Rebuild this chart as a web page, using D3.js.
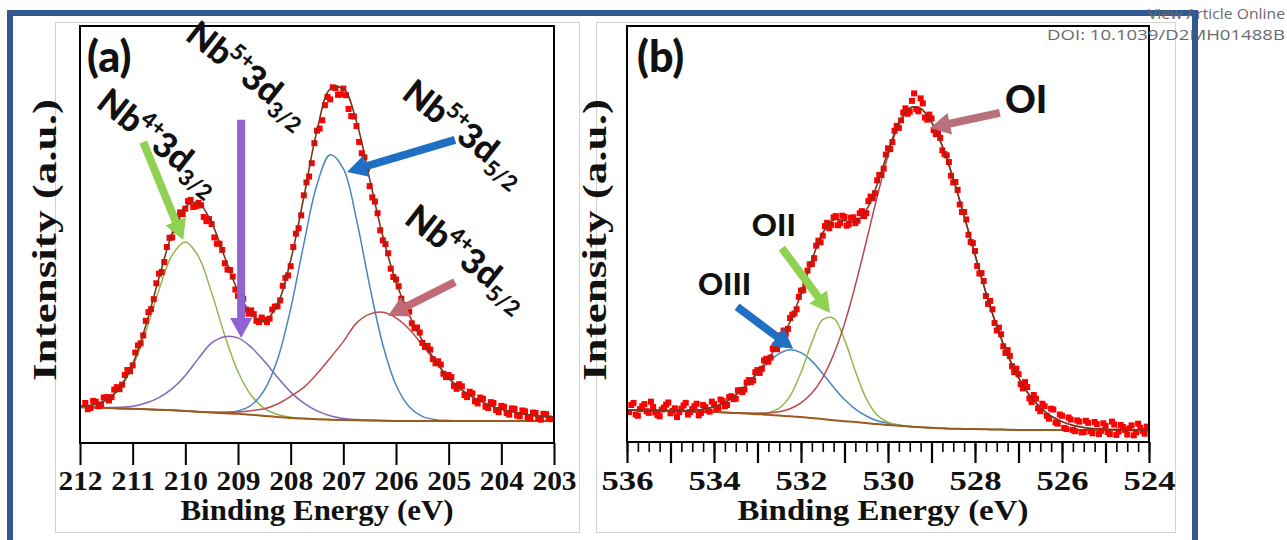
<!DOCTYPE html>
<html><head><meta charset="utf-8">
<script src="https://cdn.jsdelivr.net/npm/d3@7"></script>
<style>body{margin:0;background:#fff;}svg{display:block;}</style>
</head><body>
<svg id="chart" width="1287" height="540"></svg>
<script>
// ================= DATA: panel (a) Nb 3d =================
const gridA = [212,211.75,211.5,211.25,211,210.75,210.5,210.25,210,209.75,209.5,209.25,209,208.75,208.5,208.25,208,207.75,207.5,207.25,207,206.75,206.5,206.25,206,205.75,205.5,205.25,205,204.75,204.5,204.25,204,203.75,203.5,203.25,203];
const baselineA = [8.6,8.5,8.4,8.3,8.2,8.1,8.0,7.85,7.7,7.5,7.3,7.15,7.0,6.75,6.5,6.25,6.0,5.85,5.7,5.6,5.5,5.45,5.4,5.35,5.3,5.3,5.3,5.3,5.3,5.3,5.3,5.3,5.3,5.3,5.3,5.3,5.3];
const nb4_3d32 = [0.2,0.6,1.8,4.7,10.1,18.6,28.7,37.2,40.5,37.2,28.7,18.6,10.1,4.7,1.8,0.6,0.2,0.05,0,0,0,0,0,0,0,0,0,0,0,0,0,0,0,0,0,0,0];
const nb5_3d32 = [0.03,0.05,0.1,0.25,0.6,1.5,2.9,5.2,8.5,12.8,16.7,18.35,18.2,16.2,13.1,9.5,6.2,3.7,2.0,0.95,0.4,0.17,0.07,0.03,0,0,0,0,0,0,0,0,0,0,0,0,0];
const nb5_3d52 = [0,0,0,0,0,0,0,0,0,0,0,0.2,0.7,2.3,6.2,13.8,26.2,41.9,56.3,63.5,60.3,48.1,32.3,18.2,8.6,3.4,1.1,0.3,0.1,0,0,0,0,0,0,0,0];
const nb4_3d52 = [0,0,0,0,0,0,0,0,0,0,0.1,0.2,0.45,1.0,1.7,3.1,5.2,7.5,10.9,14.8,18.8,23.3,25.5,26.0,24.7,22.0,18.2,14.1,10.2,7.4,5.4,3.9,2.8,2.1,1.5,1.1,0.9];
const obsA = [[211.9,9.6],[211.85,8.1],[211.8,8.4],[211.75,10.1],[211.7,9.9],[211.65,8.8],[211.6,9.2],[211.55,10.9],[211.5,11.0],[211.45,10.2],[211.4,11.0],[211.35,12.8],[211.3,13.4],[211.25,12.9],[211.2,14.0],[211.15,16.3],[211.1,17.5],[211.05,17.2],[211.0,18.6],[210.95,21.7],[210.9,23.4],[210.85,23.9],[210.8,25.8],[210.75,29.3],[210.7,31.4],[210.65,32.1],[210.6,34.5],[210.55,38.3],[210.5,40.6],[210.45,41.0],[210.4,43.4],[210.35,47.0],[210.3,49.2],[210.25,49.3],[210.2,51.0],[210.15,53.9],[210.1,55.3],[210.05,54.9],[210.0,56.2],[209.95,58.0],[209.9,58.3],[209.85,56.6],[209.8,56.8],[209.75,57.6],[209.7,57.0],[209.65,54.2],[209.6,53.2],[209.55,53.7],[209.5,52.5],[209.45,49.3],[209.4,47.8],[209.35,47.8],[209.3,46.3],[209.25,43.1],[209.2,41.6],[209.15,41.5],[209.1,39.9],[209.05,36.8],[209.0,35.3],[208.95,35.7],[208.9,34.6],[208.85,32.0],[208.8,31.0],[208.75,31.8],[208.7,30.9],[208.65,29.3],[208.6,29.0],[208.55,30.1],[208.5,29.6],[208.45,29.0],[208.4,29.8],[208.35,32.0],[208.3,32.7],[208.25,32.8],[208.2,34.2],[208.15,37.7],[208.1,39.6],[208.05,40.2],[208.0,42.4],[207.95,47.0],[207.9,50.2],[207.85,51.5],[207.8,54.6],[207.75,59.4],[207.7,62.5],[207.65,63.9],[207.6,67.1],[207.55,71.9],[207.5,74.9],[207.45,75.4],[207.4,77.4],[207.35,81.0],[207.3,83.0],[207.25,82.4],[207.2,85.3],[207.15,85.1],[207.1,83.5],[207.05,83.6],[207.0,85.0],[206.95,83.4],[206.9,80.1],[206.85,78.4],[206.8,78.3],[206.75,76.0],[206.7,72.2],[206.65,69.5],[206.6,68.5],[206.55,65.8],[206.5,61.6],[206.45,58.9],[206.4,57.9],[206.35,55.1],[206.3,51.0],[206.25,48.6],[206.2,47.7],[206.15,45.5],[206.1,41.8],[206.05,39.8],[206.0,39.2],[205.95,37.6],[205.9,34.6],[205.85,33.1],[205.8,32.9],[205.75,31.5],[205.7,28.7],[205.65,27.5],[205.6,27.7],[205.55,26.5],[205.5,24.0],[205.45,23.0],[205.4,23.3],[205.35,22.4],[205.3,20.1],[205.25,19.1],[205.2,19.6],[205.15,18.8],[205.1,16.6],[205.05,15.8],[205.0,16.3],[204.95,15.8],[204.9,13.7],[204.85,13.0],[204.8,14.1],[204.75,13.6],[204.7,11.5],[204.65,11.0],[204.6,12.3],[204.55,11.9],[204.5,10.0],[204.45,9.5],[204.4,10.9],[204.35,10.6],[204.3,8.7],[204.25,8.4],[204.2,9.8],[204.15,9.6],[204.1,7.9],[204.05,7.4],[204.0,8.9],[203.95,8.7],[203.9,7.2],[203.85,6.8],[203.8,8.3],[203.75,8.2],[203.7,6.6],[203.65,6.4],[203.6,7.8],[203.55,7.6],[203.5,6.2],[203.45,5.9],[203.4,7.3],[203.35,7.2],[203.3,5.8],[203.25,5.6],[203.2,7.0],[203.15,6.9],[203.1,5.9],[203.05,5.7]];
const ticksA = [212,211,210,209,208,207,206,205,204,203];
const labelsA = [
  {ion:"Nb", sup:"4+", orb:"3d", sub:"3/2"},
  {ion:"Nb", sup:"5+", orb:"3d", sub:"3/2"},
  {ion:"Nb", sup:"5+", orb:"3d", sub:"5/2"},
  {ion:"Nb", sup:"4+", orb:"3d", sub:"5/2"}
];
// annotation anchors in data coordinates [BE, intensity]
const labelAtA = [[211.72,80.8],[210.03,97.0],[205.92,83.0],[205.87,53.0]];
const arrowsA = [[[210.80,72.2],[210.04,48.7]],[[208.94,77.5],[208.94,25.2]],[[204.88,72.7],[206.93,65.0]],[[204.88,38.6],[206.15,30.5]]];

// ================= DATA: panel (b) O 1s =================
const gridB = [536,535.75,535.5,535.25,535,534.75,534.5,534.25,534,533.75,533.5,533.25,533,532.75,532.5,532.25,532,531.75,531.5,531.25,531,530.75,530.5,530.25,530,529.75,529.5,529.25,529,528.75,528.5,528.25,528,527.75,527.5,527.25,527,526.75,526.5,526.25,526,525.75,525.5,525.25,525,524.75,524.5,524.25,524];
const baselineB = [7.7,7.65,7.6,7.55,7.5,7.4,7.3,7.25,7.2,7.1,6.95,6.85,6.7,6.55,6.35,6.2,6.0,5.75,5.5,5.25,5.0,4.8,4.55,4.3,4.1,3.9,3.7,3.55,3.4,3.3,3.2,3.15,3.1,3.05,3.0,2.95,2.9,2.9,2.9,2.9,2.9,2.9,2.9,2.9,2.9,2.9,2.9,2.9,2.9];
const oIII = [0,0,0,0.02,0.04,0.1,0.26,0.6,1.3,2.4,4.3,6.8,9.7,12.6,14.9,16.0,15.5,13.7,10.9,7.9,5.2,3.1,1.7,0.8,0.4,0.15,0.05,0,0,0,0,0,0,0,0,0,0,0,0,0,0,0,0,0,0,0,0,0,0];
const oII = [0,0,0,0,0,0,0,0,0,0,0,0,0.15,0.5,1.8,4.9,10.7,18.2,23.9,24.5,19.6,12.2,5.9,2.2,0.65,0.2,0.04,0,0,0,0,0,0,0,0,0,0,0,0,0,0,0,0,0,0,0,0,0,0];
const oI = [0,0,0,0,0,0,0,0,0,0,0,0.1,0.2,0.45,0.9,1.8,3.4,6.0,10.0,15.8,23.4,32.9,43.6,54.6,64.7,72.4,76.5,76.6,73.5,67.8,60.1,51.2,41.9,32.9,24.8,18.0,12.6,8.4,5.4,3.3,2.0,1.1,0.6,0.3,0.15,0.08,0.04,0.02,0.01];
const obsB = [[535.95,7.2],[535.9,8.9],[535.85,9.4],[535.8,6.6],[535.75,6.3],[535.7,7.9],[535.65,8.6],[535.6,9.1],[535.55,7.4],[535.5,7.0],[535.45,9.7],[535.4,8.4],[535.35,7.1],[535.3,6.5],[535.25,6.2],[535.2,7.8],[535.15,8.3],[535.1,9.0],[535.05,9.5],[535.0,6.9],[534.95,7.5],[534.9,8.1],[534.85,6.0],[534.8,7.2],[534.75,8.0],[534.7,8.8],[534.65,9.4],[534.6,6.6],[534.55,7.2],[534.5,7.9],[534.45,8.6],[534.4,9.2],[534.35,6.4],[534.3,7.0],[534.25,8.9],[534.2,8.4],[534.15,7.6],[534.1,7.3],[534.05,9.7],[534.0,9.1],[533.95,8.0],[533.9,8.2],[533.85,10.2],[533.8,9.8],[533.75,8.6],[533.7,8.9],[533.65,10.8],[533.6,11.0],[533.55,10.3],[533.5,10.4],[533.45,12.4],[533.4,12.5],[533.35,12.0],[533.3,12.6],[533.25,14.3],[533.2,14.9],[533.15,14.4],[533.1,14.8],[533.05,16.8],[533.0,17.3],[532.95,16.6],[532.9,17.6],[532.85,19.6],[532.8,20.0],[532.75,19.3],[532.7,20.3],[532.65,22.4],[532.6,23.2],[532.55,22.3],[532.5,23.4],[532.45,25.7],[532.4,26.8],[532.35,26.0],[532.3,27.2],[532.25,29.8],[532.2,30.6],[532.15,30.9],[532.1,31.9],[532.05,34.9],[532.0,36.4],[531.95,36.5],[531.9,37.9],[531.85,41.2],[531.8,42.7],[531.75,42.8],[531.7,44.2],[531.65,47.2],[531.6,48.4],[531.55,48.0],[531.5,49.6],[531.45,51.9],[531.4,52.7],[531.35,51.4],[531.3,52.2],[531.25,54.0],[531.2,54.3],[531.15,52.1],[531.1,52.6],[531.05,54.4],[531.0,54.1],[530.95,52.0],[530.9,52.3],[530.85,53.9],[530.8,54.0],[530.75,52.6],[530.7,53.2],[530.65,55.0],[530.6,55.5],[530.55,54.3],[530.5,55.0],[530.45,57.9],[530.4,59.0],[530.35,58.6],[530.3,59.8],[530.25,62.9],[530.2,64.2],[530.15,64.2],[530.1,65.7],[530.05,69.1],[530.0,70.6],[529.95,70.4],[529.9,72.1],[529.85,74.8],[529.8,76.0],[529.75,75.5],[529.7,77.3],[529.65,79.2],[529.6,80.2],[529.55,78.9],[529.5,79.4],[529.45,82.0],[529.4,83.8],[529.35,80.0],[529.3,79.5],[529.25,82.6],[529.2,81.4],[529.15,78.0],[529.1,77.5],[529.05,78.7],[529.0,77.8],[528.95,75.0],[528.9,74.0],[528.85,74.4],[528.8,73.1],[528.75,70.1],[528.7,69.2],[528.65,68.9],[528.6,67.3],[528.55,64.0],[528.5,62.4],[528.45,62.5],[528.4,60.6],[528.35,57.1],[528.3,55.3],[528.25,55.3],[528.2,53.5],[528.15,49.8],[528.1,48.1],[528.05,47.8],[528.0,45.9],[527.95,42.3],[527.9,40.5],[527.85,40.6],[527.8,38.7],[527.75,35.1],[527.7,33.2],[527.65,33.9],[527.6,31.9],[527.55,28.6],[527.5,26.8],[527.45,27.5],[527.4,25.9],[527.35,23.0],[527.3,21.4],[527.25,22.1],[527.2,20.7],[527.15,18.2],[527.1,16.8],[527.05,17.6],[527.0,16.3],[526.95,13.9],[526.9,12.9],[526.85,14.4],[526.8,13.2],[526.75,10.5],[526.7,9.6],[526.65,11.3],[526.6,10.4],[526.55,8.1],[526.5,7.4],[526.45,9.2],[526.4,8.6],[526.35,6.3],[526.3,5.6],[526.25,8.0],[526.2,7.8],[526.15,4.7],[526.1,4.4],[526.05,6.6],[526.0,6.3],[525.95,3.4],[525.9,3.1],[525.85,5.9],[525.8,5.4],[525.75,2.9],[525.7,2.6],[525.65,5.2],[525.6,4.9],[525.55,2.3],[525.5,2.4],[525.45,5.1],[525.4,4.6],[525.35,2.6],[525.3,2.1],[525.25,4.8],[525.2,4.3],[525.15,1.9],[525.1,2.7],[525.05,4.5],[525.0,3.9],[524.95,2.4],[524.9,1.9],[524.85,4.9],[524.8,4.2],[524.75,1.7],[524.7,2.5],[524.65,4.1],[524.6,3.6],[524.55,2.9],[524.5,1.8],[524.45,3.3],[524.4,4.0],[524.35,1.6],[524.3,2.3],[524.25,4.4],[524.2,3.4],[524.15,2.6],[524.1,2.0],[524.05,3.7]];
const majorTicksB = [536,535,534,533,532,531,530,529,528,527,526,525,524];
const ticksB = [536,534,532,530,528,526,524];
const labelsB = ["OI","OII","OIII"];
const labelAtB = [[527.31,79.1],[533.13,49.5],[534.37,35.3]];
const arrowsB = [[[527.43,79.1],[529.03,75.5]],[[532.44,46.6],[531.33,31.0]],[[533.47,32.5],[532.18,22.4]]];

const panelLabels = ["(a)","(b)"];
const axisTitleX = "Binding Energy (eV)";
const axisTitleY = "Intensity (a.u.)";
const headerLines = ["View Article Online","DOI: 10.1039/D2MH01488B"];

// ================= STYLE / LAYOUT =================
const serif = "'Liberation Serif','Times New Roman',serif";
const sans = "Lato,'Open Sans','Noto Sans',sans-serif";
const frameBlue = "#33588f";
const svg = d3.select("#chart");

// light-grey panel boxes
[[55,22,524,510],[596,22,579,510]].forEach(([x,y,w,h]) =>
  svg.append("rect").attr("x",x+0.5).attr("y",y+0.5).attr("width",w).attr("height",h)
     .attr("fill","#fff").attr("stroke","#d2d2d2").attr("stroke-width",1));

function arrow(g, p1, p2, color, sw, hw, hl){
  const dx=p2[0]-p1[0], dy=p2[1]-p1[1], L=Math.hypot(dx,dy);
  const ux=dx/L, uy=dy/L, nx=-uy, ny=ux;
  const bx=p2[0]-ux*hl, by=p2[1]-uy*hl;
  const pts=[[p1[0]+nx*sw/2,p1[1]+ny*sw/2],[bx+nx*sw/2,by+ny*sw/2],[bx+nx*hw/2,by+ny*hw/2],p2,
             [bx-nx*hw/2,by-ny*hw/2],[bx-nx*sw/2,by-ny*sw/2],[p1[0]-nx*sw/2,p1[1]-ny*sw/2]];
  g.append("polygon").attr("points",pts.map(p=>p.join(",")).join(" ")).attr("fill",color);
}

function panel(p){
  const x = d3.scaleLinear().domain(p.dom).range([p.x0,p.x1]);
  const y = d3.scaleLinear().domain([0,100]).range([p.y1,p.y0]);
  const clip = p.id+"-clip";
  svg.append("clipPath").attr("id",clip).append("rect")
     .attr("x",p.x0).attr("y",p.y0).attr("width",p.x1-p.x0).attr("height",p.y1-p.y0);
  const g = svg.append("g");
  const plot = g.append("g").attr("clip-path",`url(#${clip})`);
  const line = d3.line().x(d=>x(d[0])).y(d=>y(d[1])).curve(d3.curveCatmullRom.alpha(0.5));
  p.comps.forEach(c => plot.append("path")
     .datum(p.grid.map((e,i)=>[e, p.base[i]+c.v[i]]))
     .attr("d",line).attr("fill","none").attr("stroke",c.color).attr("stroke-width",1.5));
  plot.append("path").datum(p.grid.map((e,i)=>[e,p.base[i]]))
     .attr("d",line).attr("fill","none").attr("stroke",p.baseColor).attr("stroke-width",2);
  plot.selectAll("rect.pt").data(p.obs).join("rect").attr("class","pt")
     .attr("x",d=>x(d[0])-3).attr("y",d=>y(d[1])-3).attr("width",6).attr("height",6).attr("fill","#ff0000");
  plot.append("path").datum(p.grid.map((e,i)=>[e, p.base[i]+d3.sum(p.comps,c=>c.v[i])]))
     .attr("d",line).attr("fill","none").attr("stroke",p.envColor).attr("stroke-width",1.6);
  g.append("rect").attr("x",p.x0).attr("y",p.y0).attr("width",p.x1-p.x0).attr("height",p.y1-p.y0)
     .attr("fill","none").attr("stroke","#000").attr("stroke-width",2);
  return {x,y,g};
}

// ---------- panel (a) ----------
const PA = panel({id:"a", dom:[212,203], x0:80, x1:554, y0:26, y1:443, grid:gridA, base:baselineA,
  comps:[{v:nb4_3d32,color:"#8fb84a"},{v:nb5_3d32,color:"#8466b4"},{v:nb5_3d52,color:"#4a84c4"},{v:nb4_3d52,color:"#bf4b4b"}],
  obs:obsA, baseColor:"#9c5a1e", envColor:"#7a3520"});
const axA = svg.append("g").attr("transform","translate(0,443)")
  .call(d3.axisBottom(PA.x).tickValues(ticksA).tickSize(22).tickSizeOuter(0).tickFormat(d=>d));
axA.select(".domain").remove();
axA.selectAll("line").attr("stroke","#000").attr("stroke-width",2);
axA.selectAll("text").attr("y",47).attr("dy",0).attr("font-family",serif).attr("font-weight","bold")
   .attr("font-size",28).attr("fill","#111").attr("textLength",44).attr("lengthAdjust","spacingAndGlyphs");

// ---------- panel (b) ----------
const PB = panel({id:"b", dom:[536,524], x0:627, x1:1149, y0:26, y1:442, grid:gridB, base:baselineB,
  comps:[{v:oIII,color:"#4a84c4"},{v:oII,color:"#93b84c"},{v:oI,color:"#b6474a"}],
  obs:obsB, baseColor:"#9c5a1e", envColor:"#7a3520"});
const minorB = d3.range(0,49).map(i=>PB.x.domain()[0]-i*0.25);
const axBm = svg.append("g").attr("transform","translate(0,442)")
  .call(d3.axisBottom(PB.x).tickValues(minorB).tickSize(10).tickSizeOuter(0).tickFormat(""));
axBm.select(".domain").remove();
axBm.selectAll("line").attr("stroke","#000").attr("stroke-width",1.6);
const axB = svg.append("g").attr("transform","translate(0,442)")
  .call(d3.axisBottom(PB.x).tickValues(majorTicksB).tickSize(21).tickSizeOuter(0)
  .tickFormat(d=>ticksB.includes(d)?d:""));
axB.select(".domain").remove();
axB.selectAll("line").attr("stroke","#000").attr("stroke-width",2.2);
axB.selectAll("text").filter(function(){return this.textContent!=="";})
   .attr("y",48).attr("dy",0).attr("font-family",serif).attr("font-weight","bold")
   .attr("font-size",28).attr("fill","#111").attr("textLength",52).attr("lengthAdjust","spacingAndGlyphs");

// ---------- axis titles ----------
[[317,273],[883,291]].forEach(([cx,len]) =>
  svg.append("text").attr("x",cx).attr("y",520).attr("text-anchor","middle")
     .attr("font-family",serif).attr("font-weight","bold").attr("font-size",29).attr("fill","#111")
     .attr("textLength",len).attr("lengthAdjust","spacingAndGlyphs").text(axisTitleX));
[[56,240],[606,240]].forEach(([bx,cy]) =>
  svg.append("text").attr("transform",`translate(${bx},${cy}) rotate(-90)`).attr("text-anchor","middle")
     .attr("font-family",serif).attr("font-weight","bold").attr("font-size",34).attr("fill","#111")
     .attr("textLength",282).attr("lengthAdjust","spacingAndGlyphs").text(axisTitleY));

// ---------- panel letters ----------
[[87,72],[637,72]].forEach(([px,py],i) =>
  svg.append("text").attr("x",px).attr("y",py).attr("font-family",sans).attr("font-weight",900)
     .attr("font-size",43).attr("fill","#111").text(panelLabels[i]));

// ---------- annotations (a) ----------
const arrowColorsA = ["#8fd150","#8e62d0","#1f6fc2","#bf6a74"];
arrowsA.forEach(([f,t],i) => arrow(svg, [PA.x(f[0]),PA.y(f[1])], [PA.x(t[0]),PA.y(t[1])], arrowColorsA[i], 8, 22, 20));
labelsA.forEach((l,i) => {
  const t = svg.append("text")
    .attr("transform",`translate(${PA.x(labelAtA[i][0])},${PA.y(labelAtA[i][1])}) rotate(38)`)
    .attr("font-family",sans).attr("font-weight",900).attr("font-size",35).attr("fill","#111");
  t.append("tspan").text(l.ion);
  t.append("tspan").attr("font-size",22).attr("dx",-2).attr("dy",-15).text(l.sup);
  t.append("tspan").attr("dx",-1).attr("dy",15).text(l.orb);
  t.append("tspan").attr("font-size",22).attr("dy",8).text(l.sub);
});

// ---------- annotations (b) ----------
const arrowColorsB = ["#b8707a","#8fd150","#1f6fc2"];
arrowsB.forEach(([f,t],i) => arrow(svg, [PB.x(f[0]),PB.y(f[1])], [PB.x(t[0]),PB.y(t[1])], arrowColorsB[i], 8, 22, 20));
const labelSizeB = [38,31,31];
labelsB.forEach((s,i) => svg.append("text").attr("x",PB.x(labelAtB[i][0])).attr("y",PB.y(labelAtB[i][1]))
   .attr("font-family",sans).attr("font-weight",900).attr("font-size",labelSizeB[i]).attr("fill","#111").text(s));

// ---------- blue page frame & header ----------
svg.append("rect").attr("x",7).attr("y",10).attr("width",1191).attr("height",6).attr("fill",frameBlue);
svg.append("rect").attr("x",7).attr("y",10).attr("width",6).attr("height",530).attr("fill",frameBlue);
svg.append("text").attr("x",1285).attr("y",19).attr("text-anchor","end").attr("font-family","'Open Sans',sans-serif")
   .attr("font-size",15).attr("fill","#6a6a6a").attr("textLength",137).attr("lengthAdjust","spacingAndGlyphs").text(headerLines[0]);
svg.append("text").attr("x",1285).attr("y",40).attr("text-anchor","end").attr("font-family","'Open Sans',sans-serif")
   .attr("font-size",15).attr("fill","#6a6a6a").attr("textLength",238).attr("lengthAdjust","spacingAndGlyphs").text(headerLines[1]);
svg.append("rect").attr("x",1192).attr("y",10).attr("width",6).attr("height",530).attr("fill",frameBlue);
</script>
</body></html>
